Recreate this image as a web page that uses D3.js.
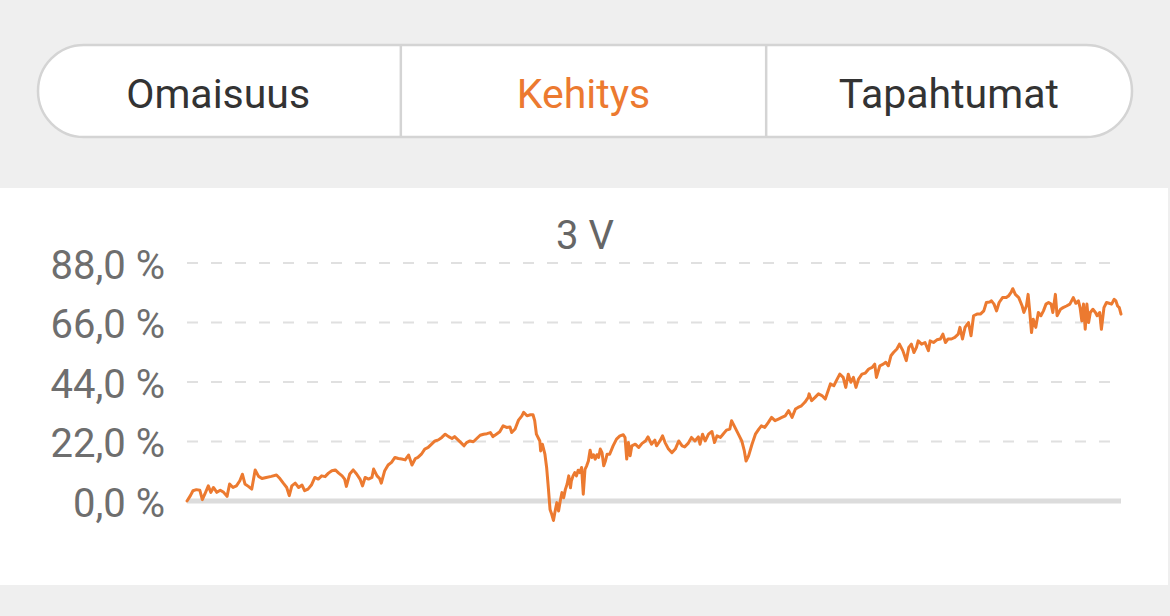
<!DOCTYPE html>
<html>
<head>
<meta charset="utf-8">
<script src="https://cdn.jsdelivr.net/npm/d3@7"></script>
<style>
  html, body { margin: 0; padding: 0; background: #efefef; }
  svg { display: block; font-family: Roboto, "Noto Sans", sans-serif; }
</style>
</head>
<body>
<svg id="chart" width="1170" height="616"></svg>
<script>
// ---- Data ----
const tabs = ["Omaisuus", "Kehitys", "Tapahtumat"];
const activeTab = "Kehitys";
const periodLabel = "3 V";
const yTicks = [0, 22, 44, 66, 88];

// day offset within the 3-year period
const days = [
  0,4,7,11,15,18,21,25,28,31,35,39,43,47,50,54,58,62,65,68,
  72,76,80,84,88,93,99,105,109,113,117,120,123,127,131,135,138,142,146,150,
  154,158,162,166,170,174,178,182,185,187,191,195,199,203,206,209,213,217,219,223,
  226,228,232,236,240,244,248,252,256,260,264,268,271,275,279,283,287,291,295,299,
  303,307,311,314,318,322,325,328,332,336,340,344,348,352,356,359,363,367,
  371,375,379,381,385,389,393,395,399,403,406,408,410,414,415,417,420,422,424,426,
  428,430,432,434,436,438,440,442,444,446,448,450,451,453,455,457,459,461,463,465,
  467,469,471,473,475,477,479,481,483,485,487,489,491,493,496,500,504,508,512,514,
  516,518,520,522,526,530,534,538,541,545,549,551,555,558,561,565,569,573,577,581,
  584,588,592,596,600,602,605,608,612,616,619,622,626,629,633,637,639,643,647,651,
  654,656,659,663,667,671,674,678,682,686,690,694,698,702,706,710,714,717,721,725,729,
  730,733,737,741,745,749,753,755,759,762,766,770,773,776,779,782,785,788,792,796,
  800,804,807,809,813,817,820,823,826,829,833,836,840,844,847,850,853,856,858,862,
  866,870,872,876,880,884,887,890,893,897,901,905,907,910,913,917,920,923,927,931,
  935,938,942,944,947,950,953,957,961,964,967,969,972,976,980,982,985,987,989,991,
  993,996,999,1002,1005,1008,1011,1014,1016,1019,1021,1025,1028,1032,1036,1040,1043,1046,1048,1050,
  1052,1054,1056,1058,1060,1063,1066,1068,1071,1073,1076,1079,1082,1085,1088,1090,1092,1094,1096
];

// cumulative return, %
const values = [
  0,2.0,3.8,4.2,4.0,0.5,2.6,5.6,3.2,5.0,3.2,4.0,3.2,1.7,6.3,5.0,5.6,7.5,9.9,6.3,
  5.4,4.4,11.5,9.1,8.3,8.7,9.1,9.6,8.3,6.6,5.0,2.0,5.6,6.6,5.0,5.9,3.8,4.4,5.9,8.7,
  8.1,9.3,9.0,10.3,11.2,11.5,10.3,9.3,8.1,5.4,10.0,11.5,10.0,8.1,5.6,8.7,8.1,8.7,11.8,9.3,
  8.3,6.6,11.2,13.3,14.3,16.1,15.7,15.5,15.2,17.0,13.3,15.7,16.1,17.3,19.2,19.8,21.0,22.2,22.6,23.5,
  24.7,23.8,23.1,23.8,22.6,21.4,20.4,21.6,22.2,21.9,23.1,24.3,24.7,24.9,25.3,23.8,24.7,25.6,
  27.8,27.2,27.4,25.3,26.6,29.9,31.5,32.8,31.5,31.9,31.9,29.7,24.7,22.2,18.5,21.0,17.3,12.4,4.9,-3.1,
  -4.9,-7.2,-3.7,-0.6,-3.7,0,3.1,1.2,4.3,6.2,9.3,4.9,7.4,9.3,10.5,9.3,11.4,10.5,12.4,2.5,
  11.7,13.0,14.8,18.8,16.1,17.1,15.5,17.1,16.1,19.2,17.9,13.0,14.8,17.3,17.3,20.4,22.9,24.1,24.5,23.5,
  15.5,21.6,16.7,20.4,21.0,19.8,21.3,22.2,23.7,21.0,22.5,20.4,22.2,24.1,21.6,19.2,17.9,19.2,22.2,20.4,
  20.0,21.3,23.5,22.2,23.7,21.0,24.7,22.2,24.7,25.7,21.6,24.1,23.5,24.7,26.2,26.6,29.7,27.2,24.7,22.2,
  18.5,14.8,16.7,21.0,24.7,26.6,27.8,27.2,29.0,30.9,29.7,30.3,30.9,31.5,33.4,30.9,34.0,34.6,35.2,36.5,38.3,
  39.6,37.1,38.3,39.6,39.0,37.7,41.4,43.3,42.6,44.5,46.9,45.7,42.0,46.9,43.9,45.7,42.0,45.1,46.9,47.3,
  48.8,49.4,50.6,45.7,50.0,50.6,51.3,50.0,53.7,54.9,56.2,58.0,55.6,51.9,56.8,58.0,54.9,56.8,59.2,58.0,
  58.6,55.6,59.2,58.6,59.6,59.9,61.7,58.6,59.9,59.9,60.5,61.7,64.2,59.9,64.2,66.0,61.1,68.5,69.1,69.1,
  70.3,73.4,73.6,74.0,72.8,70.3,73.4,75.2,75.2,75.8,77.1,78.5,76.4,75.2,72.1,69.7,72.1,76.4,69.7,62.3,
  67.2,64.2,69.7,68.5,70.3,72.8,73.4,72.8,69.7,76.4,68.5,70.9,71.5,72.1,72.8,75.2,73.1,74.0,71.5,66.6,
  72.8,63.5,72.8,66.0,69.7,70.9,69.7,68.5,69.7,63.5,71.5,73.4,73.1,72.8,74.6,74.0,72.1,71.5,69.1
];

// ---- Drawing ----
const ORANGE = "#ec7a30";
const svg = d3.select("#chart");

// Tab bar
const tabX = d3.scaleBand().domain(tabs).range([35.5, 1131.5]);
svg.append("rect")
  .attr("x", 38).attr("y", 45).attr("width", 1094).attr("height", 92)
  .attr("rx", 46).attr("ry", 46)
  .attr("fill", "#ffffff").attr("stroke", "#d4d4d4").attr("stroke-width", 2.5);
svg.selectAll("line.divider").data(tabs.slice(1)).join("line")
  .attr("class", "divider")
  .attr("x1", d => tabX(d)).attr("x2", d => tabX(d))
  .attr("y1", 46).attr("y2", 136)
  .attr("stroke", "#d4d4d4").attr("stroke-width", 2.5);
svg.selectAll("text.tab").data(tabs).join("text")
  .attr("class", "tab")
  .attr("x", d => tabX(d) + tabX.bandwidth() / 2)
  .attr("y", 108)
  .attr("text-anchor", "middle")
  .attr("font-size", 41)
  .attr("fill", d => d === activeTab ? ORANGE : "#333333")
  .text(d => d);

// White chart panel
svg.append("rect")
  .attr("x", 0).attr("y", 188).attr("width", 1168).attr("height", 397)
  .attr("fill", "#ffffff");

// Scales
const x = d3.scaleLinear().domain([0, d3.max(days)]).range([187, 1121]);
const y = d3.scaleLinear().domain([0, 88]).range([501, 263]);

// Title
svg.append("text")
  .attr("x", 585).attr("y", 249)
  .attr("text-anchor", "middle")
  .attr("font-size", 40)
  .attr("fill", "#666666")
  .text(periodLabel);

// Gridlines
svg.selectAll("line.grid").data(yTicks.filter(t => t !== 0)).join("line")
  .attr("class", "grid")
  .attr("x1", x(0)).attr("x2", x.range()[1])
  .attr("y1", d => y(d)).attr("y2", d => y(d))
  .attr("stroke", "#e0e0e0").attr("stroke-width", 2)
  .attr("stroke-dasharray", "11,13");

// Zero baseline
svg.append("line")
  .attr("x1", x(0)).attr("x2", x.range()[1])
  .attr("y1", y(0)).attr("y2", y(0))
  .attr("stroke", "#dcdcdc").attr("stroke-width", 5);

// Y axis labels
const fmt = v => d3.format(".1f")(v).replace(".", ",") + " %";
const yAxis = d3.axisLeft(y).tickValues(yTicks).tickFormat(fmt).tickSize(0).tickPadding(0);
const gy = svg.append("g").attr("transform", "translate(165,0)").call(yAxis);
gy.select(".domain").remove();
gy.selectAll("text")
  .attr("font-family", "Roboto, 'Noto Sans', sans-serif")
  .attr("font-size", 40)
  .attr("fill", "#6e6e6e")
  .attr("dy", "0.38em");

// Line
const series = days.map((d, i) => ({ day: d, value: values[i] }));
const line = d3.line().x(d => x(d.day)).y(d => y(d.value));
svg.append("path")
  .datum(series)
  .attr("d", line)
  .attr("fill", "none")
  .attr("stroke", ORANGE)
  .attr("stroke-width", 3)
  .attr("stroke-linejoin", "round")
  .attr("stroke-linecap", "round");
</script>
</body>
</html>
